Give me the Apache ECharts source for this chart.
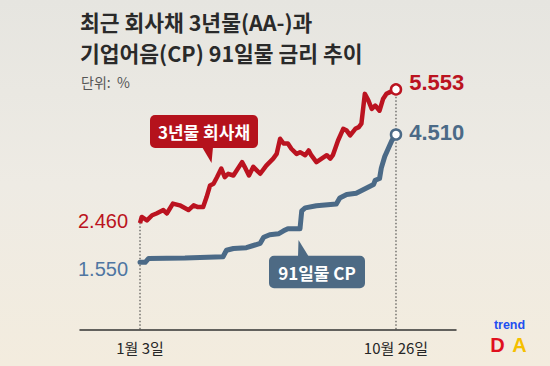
<!DOCTYPE html>
<html><head><meta charset="utf-8">
<script src="https://cdn.jsdelivr.net/npm/echarts@6/dist/echarts.min.js"></script>
<style>html,body{margin:0;padding:0;}#c{width:550px;height:366px;}</style>
</head><body><div id="c"></div>
<script>
// days since 2022-01-03
const redDays = [0,2,8,14,19,27,31,38,46,56,62,67,73,77,81,85,89,94,98,102,108,118,121,126,131,135,139,146,154,158,162,166,171,175,181,185,191,195,198,204,210,216,220,223,229,235,239,243,249,253,256,260,264,268,272,277,281,285,289,293,296];
const redVals = [2.46,2.60,2.52,2.64,2.68,2.76,2.68,2.91,2.87,2.76,2.87,2.83,2.83,3.06,3.33,3.37,3.52,3.72,3.52,3.60,3.56,3.87,3.76,3.56,3.76,3.68,3.60,3.79,3.95,4.06,4.41,4.30,4.30,4.18,4.06,4.10,4.03,4.14,4.03,3.87,3.95,4.03,3.95,4.03,4.37,4.64,4.60,4.49,4.64,4.68,4.76,5.45,5.30,5.10,5.18,5.06,5.33,5.45,5.49,5.53,5.553];
const blueDays = [0,6,10,52,96,100,108,123,131,139,143,150,160,166,171,185,187,191,204,227,231,239,250,262,270,272,277,279,283,287,291,293,296];
const blueVals = [1.55,1.55,1.64,1.65,1.68,1.83,1.87,1.89,1.94,1.99,2.13,2.19,2.21,2.28,2.33,2.33,2.74,2.81,2.86,2.90,3.04,3.12,3.15,3.27,3.35,3.45,3.49,3.73,4.00,4.18,4.36,4.43,4.51];
const xTickDays = [0, 296];
const xTickLabels = ['1월 3일', '10월 26일'];
const redName = '3년물 회사채';
const blueName = '91일물 CP';
const titleLines = ['최근 회사채 3년물(AA-)과', '기업어음(CP) 91일물 금리 추이'];
const unitText = '단위:  %';

const RED = '#bb1320', BLUE = '#4b6a87', BLUE_TXT = '#4f76a2';
const KR = '"Noto Sans CJK KR", "Noto Sans", sans-serif';
const NUM = '"Liberation Sans", Arial, sans-serif';

const zip = (a, b) => a.map((d, i) => [d, b[i]]);
const rl = redVals.length - 1, bl = blueVals.length - 1;

const chart = echarts.init(document.getElementById('c'), null, {renderer: 'svg'});
chart.setOption({
  animation: false,
  backgroundColor: {type: 'linear', x: 0, y: 0, x2: 0, y2: 1,
    colorStops: [{offset: 0, color: '#e6e5e0'}, {offset: 0.5, color: '#eeebe4'}, {offset: 1, color: '#f3ecde'}]},
  grid: {left: 80, right: 94, top: 70.1, bottom: 36.7},
  xAxis: {type: 'value', min: -69.4, max: 365.4,
    axisLine: {show: true, onZero: true, lineStyle: {color: '#333', width: 1.5}},
    axisTick: {show: false}, splitLine: {show: false},
    axisLabel: {customValues: xTickDays, margin: 11, fontFamily: KR, fontSize: 15, color: '#262626',
      formatter: v => xTickLabels[xTickDays.indexOf(v)] || ''}},
  yAxis: {type: 'value', min: 0, max: 6, show: false},
  graphic: [
    {type: 'text', x: 80, y: 21.3, style: {text: titleLines[0], font: 'bold 21.5px ' + KR, fill: '#2a2a2a', verticalAlign: 'middle'}},
    {type: 'text', x: 80, y: 52.7, style: {text: titleLines[1], font: 'bold 21.5px ' + KR, fill: '#2a2a2a', verticalAlign: 'middle'}},
    {type: 'text', x: 81, y: 82, style: {text: unitText, font: '14px ' + KR, fill: '#555', verticalAlign: 'middle'}},
    // red callout
    {type: 'rect', shape: {x: 150, y: 115, width: 108, height: 33, r: 5}, style: {fill: '#b5121c'}},
    {type: 'polygon', shape: {points: [[202, 147], [213, 147], [211.5, 163]]}, style: {fill: '#b5121c'}},
    {type: 'text', x: 204, y: 131.5, style: {text: redName, font: 'bold 17px ' + KR, fill: '#fff', align: 'center', verticalAlign: 'middle'}},
    // blue callout
    {type: 'rect', shape: {x: 269, y: 255.7, width: 96, height: 32.6, r: 5}, style: {fill: '#4d6a84'}},
    {type: 'polygon', shape: {points: [[298, 257], [309, 257], [298.5, 240]]}, style: {fill: '#4d6a84'}},
    {type: 'text', x: 317, y: 272.5, style: {text: blueName, font: 'bold 17px ' + KR, fill: '#fff', align: 'center', verticalAlign: 'middle'}},
    // logo
    {type: 'text', x: 509.5, y: 325, style: {text: 'trend', font: 'bold 12.5px ' + NUM, fill: '#1e4ff0', align: 'center', verticalAlign: 'middle'}},
    {type: 'text', x: 497.5, y: 344.5, style: {text: 'D', font: 'bold 20px ' + NUM, fill: '#e0101e', align: 'center', verticalAlign: 'middle'}},
    {type: 'text', x: 519.5, y: 344.5, style: {text: 'A', font: 'bold 20px ' + NUM, fill: '#f5c000', align: 'center', verticalAlign: 'middle'}}
  ],
  series: [
    {type: 'line', data: [[redDays[0], 0], [redDays[0], redVals[0]]], symbol: 'none', silent: true,
      lineStyle: {color: '#333', width: 1, type: [1.5, 2]}, z: 1},
    {type: 'line', data: [[redDays[rl], 0], [redDays[rl], redVals[rl]]], symbol: 'none', silent: true,
      lineStyle: {color: '#333', width: 1, type: [1.5, 2]}, z: 1},
    {type: 'line', name: blueName, data: zip(blueDays, blueVals), symbol: 'none',
      lineStyle: {color: BLUE, width: 5, join: 'round', cap: 'round'}, z: 3},
    {type: 'line', name: redName, data: zip(redDays, redVals), symbol: 'none',
      lineStyle: {color: RED, width: 4.5, join: 'round'}, z: 4},
    {type: 'scatter', data: [[redDays[rl], redVals[rl]]], symbol: 'circle', symbolSize: 10, z: 6,
      itemStyle: {color: '#fff', borderColor: RED, borderWidth: 2.5, opacity: 1},
      label: {show: true, position: 'right', distance: 7, offset: [0, -7], fontFamily: NUM, fontSize: 22, fontWeight: 'bold', color: RED, opacity: 1,
        formatter: p => p.value[1].toFixed(3)}},
    {type: 'scatter', data: [[blueDays[bl], blueVals[bl]]], symbol: 'circle', symbolSize: 10, z: 6,
      itemStyle: {color: '#fff', borderColor: BLUE, borderWidth: 2.5, opacity: 1},
      label: {show: true, position: 'right', distance: 7, offset: [0, -2], fontFamily: NUM, fontSize: 22, fontWeight: 'bold', color: BLUE, opacity: 1,
        formatter: p => p.value[1].toFixed(3)}},
    {type: 'scatter', data: [[redDays[0], redVals[0]]], symbolSize: 0, z: 6, itemStyle: {opacity: 1},
      label: {show: true, position: 'left', distance: 12, offset: [0, -2], fontFamily: NUM, fontSize: 20, color: RED, opacity: 1,
        formatter: p => p.value[1].toFixed(3)}},
    {type: 'scatter', data: [[blueDays[0], blueVals[0]]], symbolSize: 0, z: 6, itemStyle: {opacity: 1},
      label: {show: true, position: 'left', distance: 12, offset: [0, 7], fontFamily: NUM, fontSize: 20, color: BLUE_TXT, opacity: 1,
        formatter: p => p.value[1].toFixed(3)}}
  ]
});
</script></body></html>
